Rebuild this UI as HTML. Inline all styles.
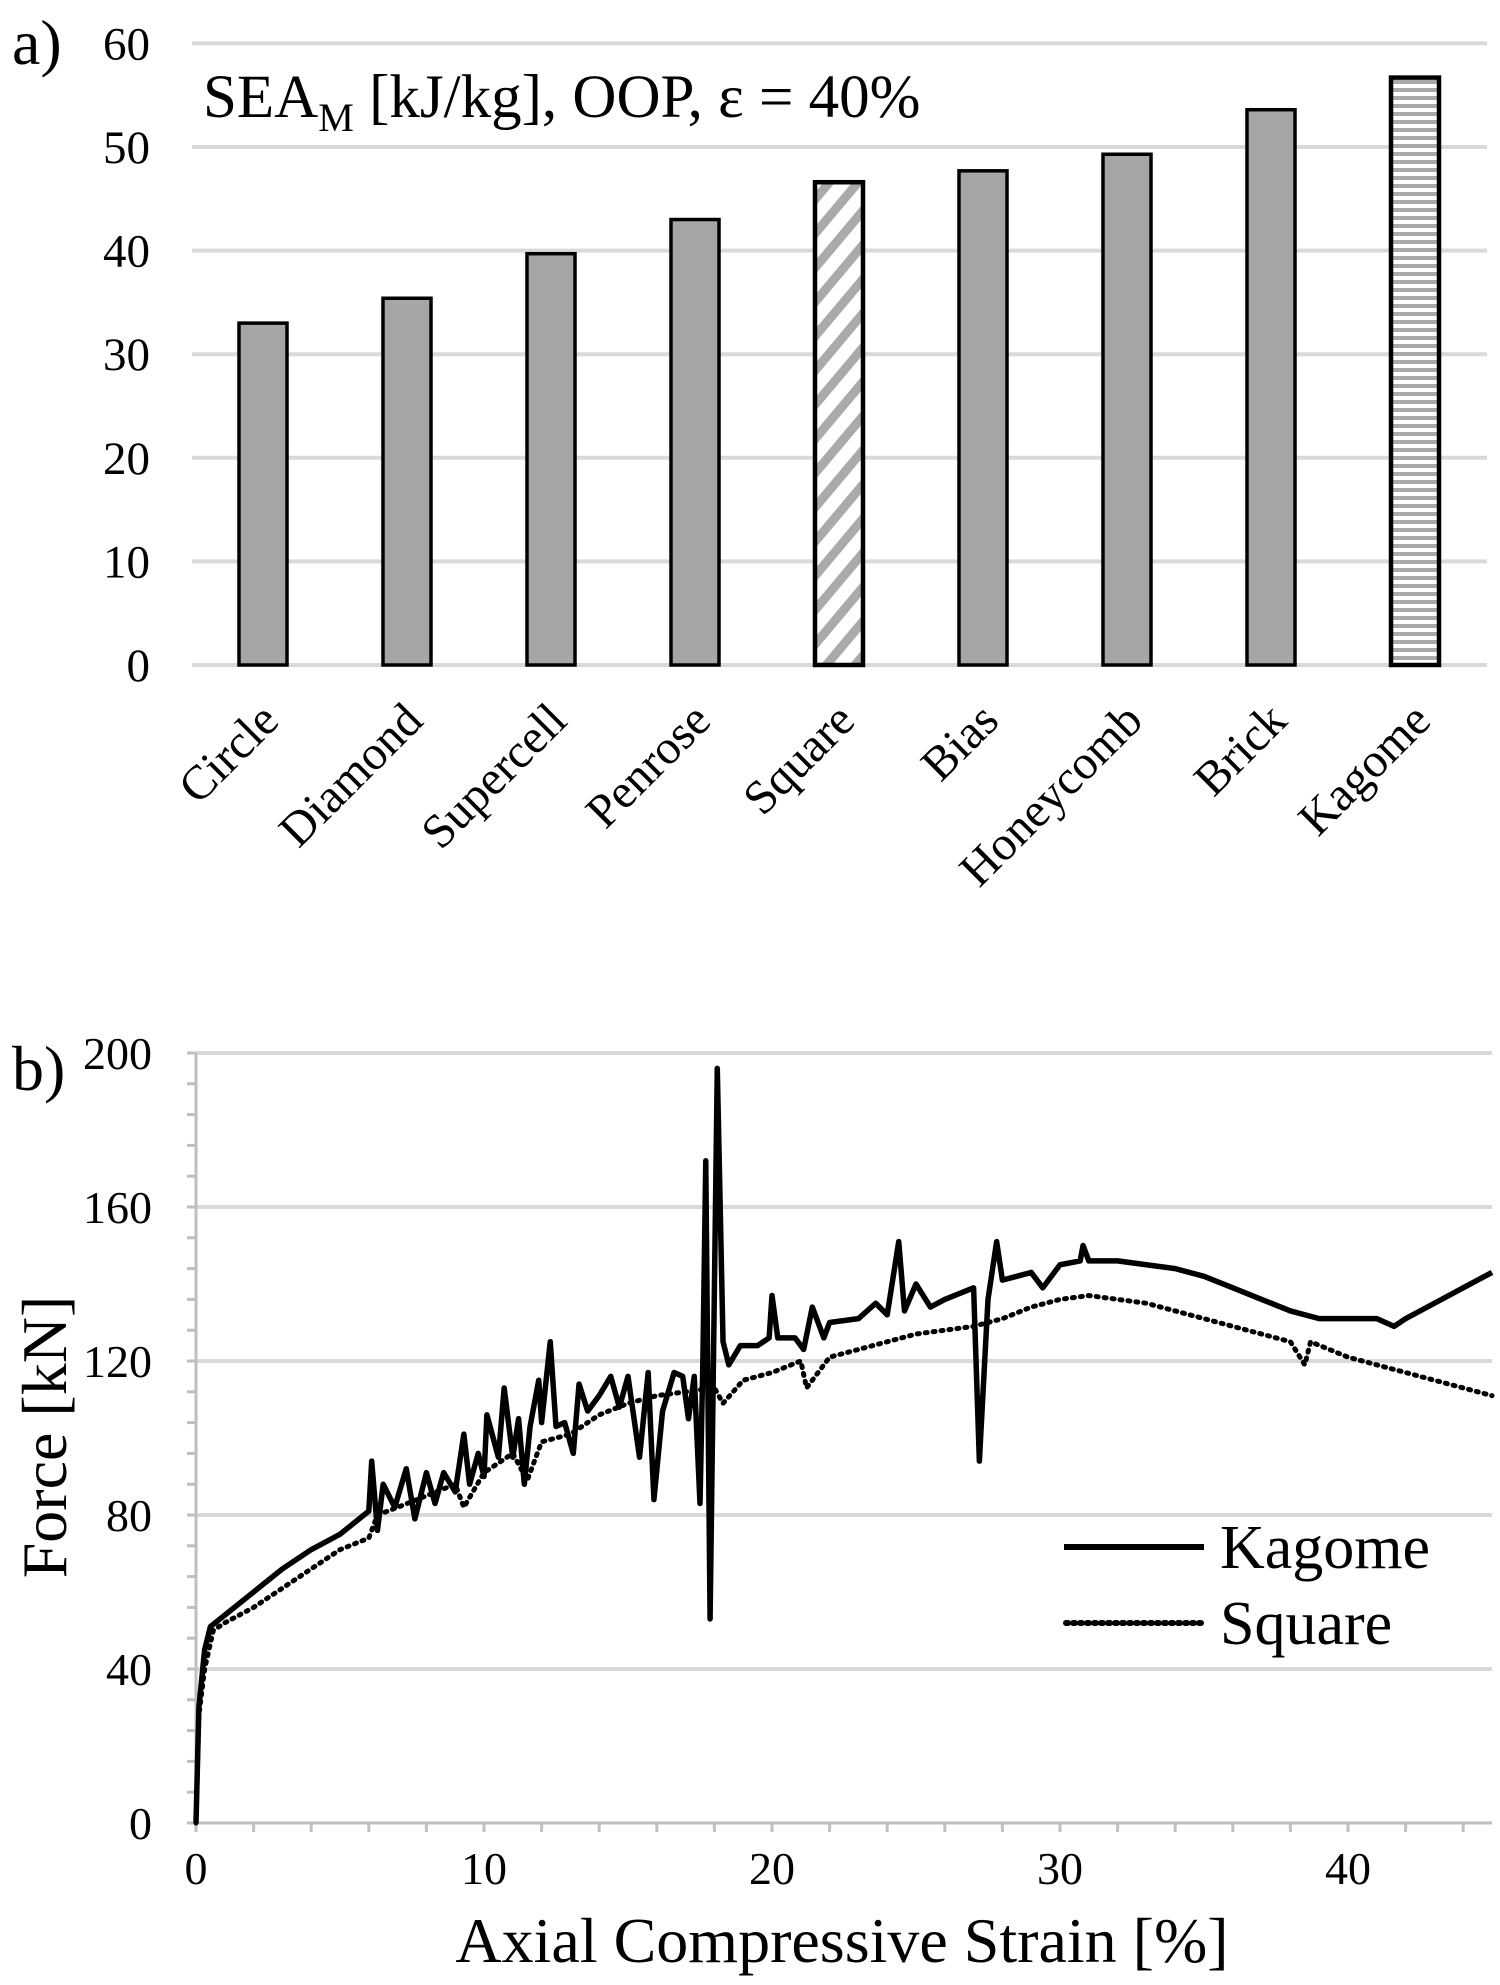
<!DOCTYPE html>
<html><head><meta charset="utf-8">
<style>
html,body{margin:0;padding:0;background:#fff;}
svg{display:block;font-family:"Liberation Serif",serif;}
</style></head>
<body>
<svg id="fig" width="1500" height="1985" viewBox="0 0 1500 1985" xmlns="http://www.w3.org/2000/svg">
<defs>
<pattern id="diag" patternUnits="userSpaceOnUse" width="22" height="22" patternTransform="rotate(40)">
<rect width="22" height="22" fill="#fff"/><rect width="9" height="22" fill="#aaa"/>
</pattern>
<pattern id="horiz" patternUnits="userSpaceOnUse" width="10" height="8">
<rect width="10" height="8" fill="#fff"/><rect width="10" height="4" fill="#aaa"/>
</pattern>
</defs>
<g id="chartA"></g>
<g id="chartB"></g>
</svg>
<script>
const categories = ["Circle","Diamond","Supercell","Penrose","Square","Bias","Honeycomb","Brick","Kagome"];
const seaValues = [33.0, 35.4, 39.7, 43.0, 46.6, 47.7, 49.3, 53.6, 56.7];
const yTicksA = [0,10,20,30,40,50,60];

const kagomeX = [0,0.1,0.3,0.5,1,2,3,4,5,6,6.1,6.3,6.5,6.9,7.3,7.6,8,8.3,8.6,9,9.3,9.5,9.8,10,10.1,10.5,10.7,11,11.2,11.4,11.6,11.9,12,12.3,12.5,12.8,13.1,13.3,13.6,14,14.4,14.7,15,15.4,15.7,15.9,16.2,16.6,16.9,17.1,17.3,17.5,17.6,17.7,17.85,18.1,18.3,18.5,18.9,19.5,19.9,20,20.2,20.8,21.1,21.4,21.8,22,23,23.6,24,24.4,24.6,25,25.5,26,27,27.2,27.5,27.8,28,29,29.4,30,30.7,30.8,31,32,33,34,35,36,37,38,39,40,41,41.6,42,43,44,45];
const kagomeY = [0,30,45,51,54,60,66,71,75,81,94,76,88,82,92,79,91,83,91,86,101,88,96,90,106,95,113,95,105,88,103,115,104,125,103,104,96,114,107,111,116,108,116,95,117,84,107,117,116,105,116,83,120,172,53,196,125,119,124,124,126,137,126,126,123,134,126,130,131,135,132,151,133,140,134,136,139,94,136,151,141,143,139,145,146,150,146,146,145,144,142,139,136,133,131,131,131,129,131,135,139,143];
const squareX = [0,0.1,0.3,0.6,1,2,3,4,5,6,6.3,7,8,9,9.3,10,11,11.5,12,13,14,15,16,17,18,18.3,19,20,21,21.2,22,23,24,25,26,27,28,29,30,31,32,33,34,35,36,37,38,38.5,38.7,40,42,44,45];
const squareY = [0,28,40,50,52,56,61,66,71,74,80,82,85,88,82,91,96,89,99,101,106,109,111,112,113,109,115,117,120,113,121,123,125,127,128,129,131,134,136,137,136,135,133,131,129,127,125,119,125,121,117,113,111];
const yTicksB = [0,40,80,120,160,200];
const xTicksB = [0,10,20,30,40];

const NS="http://www.w3.org/2000/svg";
function mk(parent,tag,attrs,text){const e=document.createElementNS(NS,tag);for(const k in attrs)e.setAttribute(k,attrs[k]);if(text!==undefined)e.textContent=text;parent.appendChild(e);return e;}

// ---------- Chart A ----------
const A=document.getElementById('chartA');
const aY0=665, aPer=103.6/10, aRight=1487;
const yA=v=>aY0-v*aPer;
const xA=i=>263+i*144;
let t=mk(A,'text',{x:12,y:64,'font-size':64},'a)');


yTicksA.forEach(v=>{
  let g=mk(A,'line',{x1:192,x2:aRight,y1:yA(v),y2:yA(v),stroke:'#d9d9d9','stroke-width':4});
  
  
  let l=mk(A,'text',{x:150,y:yA(v)+16,'font-size':47,'text-anchor':'end'},String(v));
  
  
});
t=mk(A,'text',{x:203,y:117,'font-size':61});
t.innerHTML='SEA<tspan font-size="40" dy="14">M</tspan><tspan dy="-14"> [kJ/kg], OOP, ε = 40%</tspan>';


categories.forEach((c,i)=>{
  const w=48, x=xA(i)-w/2, y=yA(seaValues[i]);
  let fill='#a6a6a6';
  if(c==='Square')fill='url(#diag)';
  if(c==='Kagome')fill='url(#horiz)';
  let r=mk(A,'rect',{x:x,y:y,width:w,height:aY0-y,fill:fill,stroke:'#000','stroke-width':(c==='Square'||c==='Kagome')?4.5:3.5});
  
  
  let l=mk(A,'text',{x:0,y:0,'font-size':48,'text-anchor':'end',transform:`translate(${xA(i)+18},${aY0+58}) rotate(-45)`},c);
  
  
});

// ---------- Chart B ----------
const B=document.getElementById('chartB');
const bY0=1823, bYper=(1823-1053)/200, bX0=196, bXper=28.8, bRight=1492;
const yB=v=>bY0-v*bYper;
const xB=v=>bX0+v*bXper;
t=mk(B,'text',{x:12,y:1090,'font-size':64},'b)');


yTicksB.forEach(v=>{
  if(v>0){let g=mk(B,'line',{x1:bX0,x2:bRight,y1:yB(v),y2:yB(v),stroke:'#d9d9d9','stroke-width':4});
  
  }
  let l=mk(B,'text',{x:152,y:yB(v)+16,'font-size':46,'text-anchor':'end'},String(v));
  
  
});
for(let v=0;v<=200;v+=8){mk(B,'line',{x1:bX0-9,x2:bX0,y1:yB(v),y2:yB(v),stroke:'#bfbfbf','stroke-width':3});}
for(let v=0;v<=45;v+=2){mk(B,'line',{x1:xB(v),x2:xB(v),y1:bY0,y2:bY0+9,stroke:'#bfbfbf','stroke-width':3});}
let ax=mk(B,'line',{x1:bX0,x2:bX0,y1:yB(200),y2:bY0,stroke:'#bfbfbf','stroke-width':3});


ax=mk(B,'line',{x1:bX0,x2:bRight,y1:bY0,y2:bY0,stroke:'#bfbfbf','stroke-width':3});


xTicksB.forEach(v=>{
  let l=mk(B,'text',{x:xB(v),y:1884,'font-size':46,'text-anchor':'middle'},String(v));
  
  
});
let sq=mk(B,'polyline',{points:squareX.map((x,i)=>xB(x)+','+yB(squareY[i])).join(' '),fill:'none',stroke:'#000','stroke-width':5,'stroke-dasharray':'2 6','stroke-linecap':'round'});


let kg=mk(B,'polyline',{points:kagomeX.map((x,i)=>xB(x)+','+yB(kagomeY[i])).join(' '),fill:'none',stroke:'#000','stroke-width':5.5,'stroke-linejoin':'round'});


let lg=mk(B,'g',{});


mk(lg,'line',{x1:1064,x2:1204,y1:1547,y2:1547,stroke:'#000','stroke-width':6});
mk(lg,'text',{x:1220,y:1568,'font-size':62},'Kagome');
mk(lg,'line',{x1:1066,x2:1204,y1:1623,y2:1623,stroke:'#000','stroke-width':6,'stroke-dasharray':'2 5','stroke-linecap':'round'});
mk(lg,'text',{x:1220,y:1644,'font-size':62},'Square');
t=mk(B,'text',{x:0,y:0,'font-size':64,'text-anchor':'middle',transform:'translate(66,1437) rotate(-90)'},'Force [kN]');


t=mk(B,'text',{x:842,y:1962,'font-size':64,'text-anchor':'middle'},'Axial Compressive Strain [%]');


</script>
</body></html>
